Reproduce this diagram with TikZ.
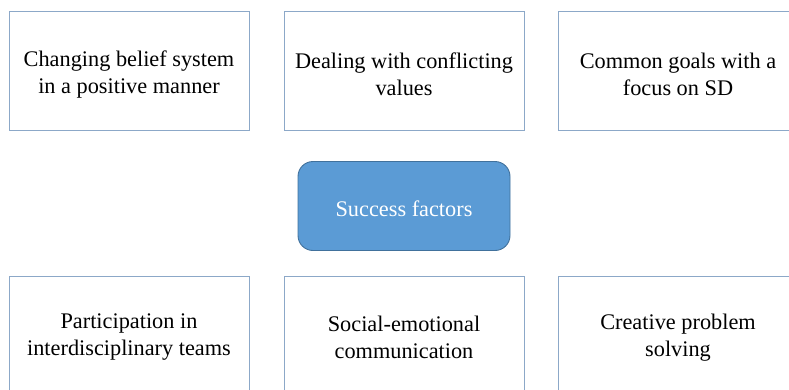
\documentclass[tikz,border=0pt]{standalone}
\usepackage{fontspec}
\setmainfont{Liberation Serif}
\definecolor{boxline}{HTML}{8CA8C8}
\definecolor{cfill}{HTML}{5B9BD5}
\definecolor{cline}{HTML}{41719C}
\begin{document}
\begin{tikzpicture}[x=1pt,y=-1pt,
  factor/.style={draw=boxline, line width=0.9pt, minimum width=240pt, minimum height=119pt, inner sep=0pt},
  hub/.style={draw=cline, fill=cfill, line width=0.9pt, rounded corners=15pt, minimum width=212pt, minimum height=89pt, inner sep=0pt},
  txt/.style={align=center, inner sep=0pt, font=\fontsize{22.3}{27}\selectfont, text=black},
  hubtxt/.style={txt, text=white}]
\path[use as bounding box, clip] (0,0) rectangle (789,389);
\node[factor] (f1) at (129,71) {};
\node[factor] (f2) at (404,71) {};
\node[factor] (f3) at (678,71) {};
\node[hub] (hub) at (404,206) {};
\node[factor] (f4) at (129,335.5) {};
\node[factor] (f5) at (404,335.5) {};
\node[factor] (f6) at (678,335.5) {};
\node[txt] (t1) at ([yshift=-3.5pt]f1.center) {Changing belief system\\in a positive manner};
\node[txt] (t2) at ([yshift=-3.5pt]f2.center) {Dealing with conflicting\\values};
\node[txt] (t3) at ([yshift=-3.5pt]f3.center) {Common goals with a\\focus on SD};
\node[hubtxt] (th) at ([yshift=-3pt]hub.center) {Success factors};
\node[txt] (t4) at ([yshift=-2pt]f4.center) {Participation in\\interdisciplinary teams};
\node[txt] (t5) at ([yshift=-2pt]f5.center) {Social-emotional\\communication};
\node[txt] (t6) at ([yshift=-2pt]f6.center) {Creative problem\\solving};
\end{tikzpicture}
\end{document}
